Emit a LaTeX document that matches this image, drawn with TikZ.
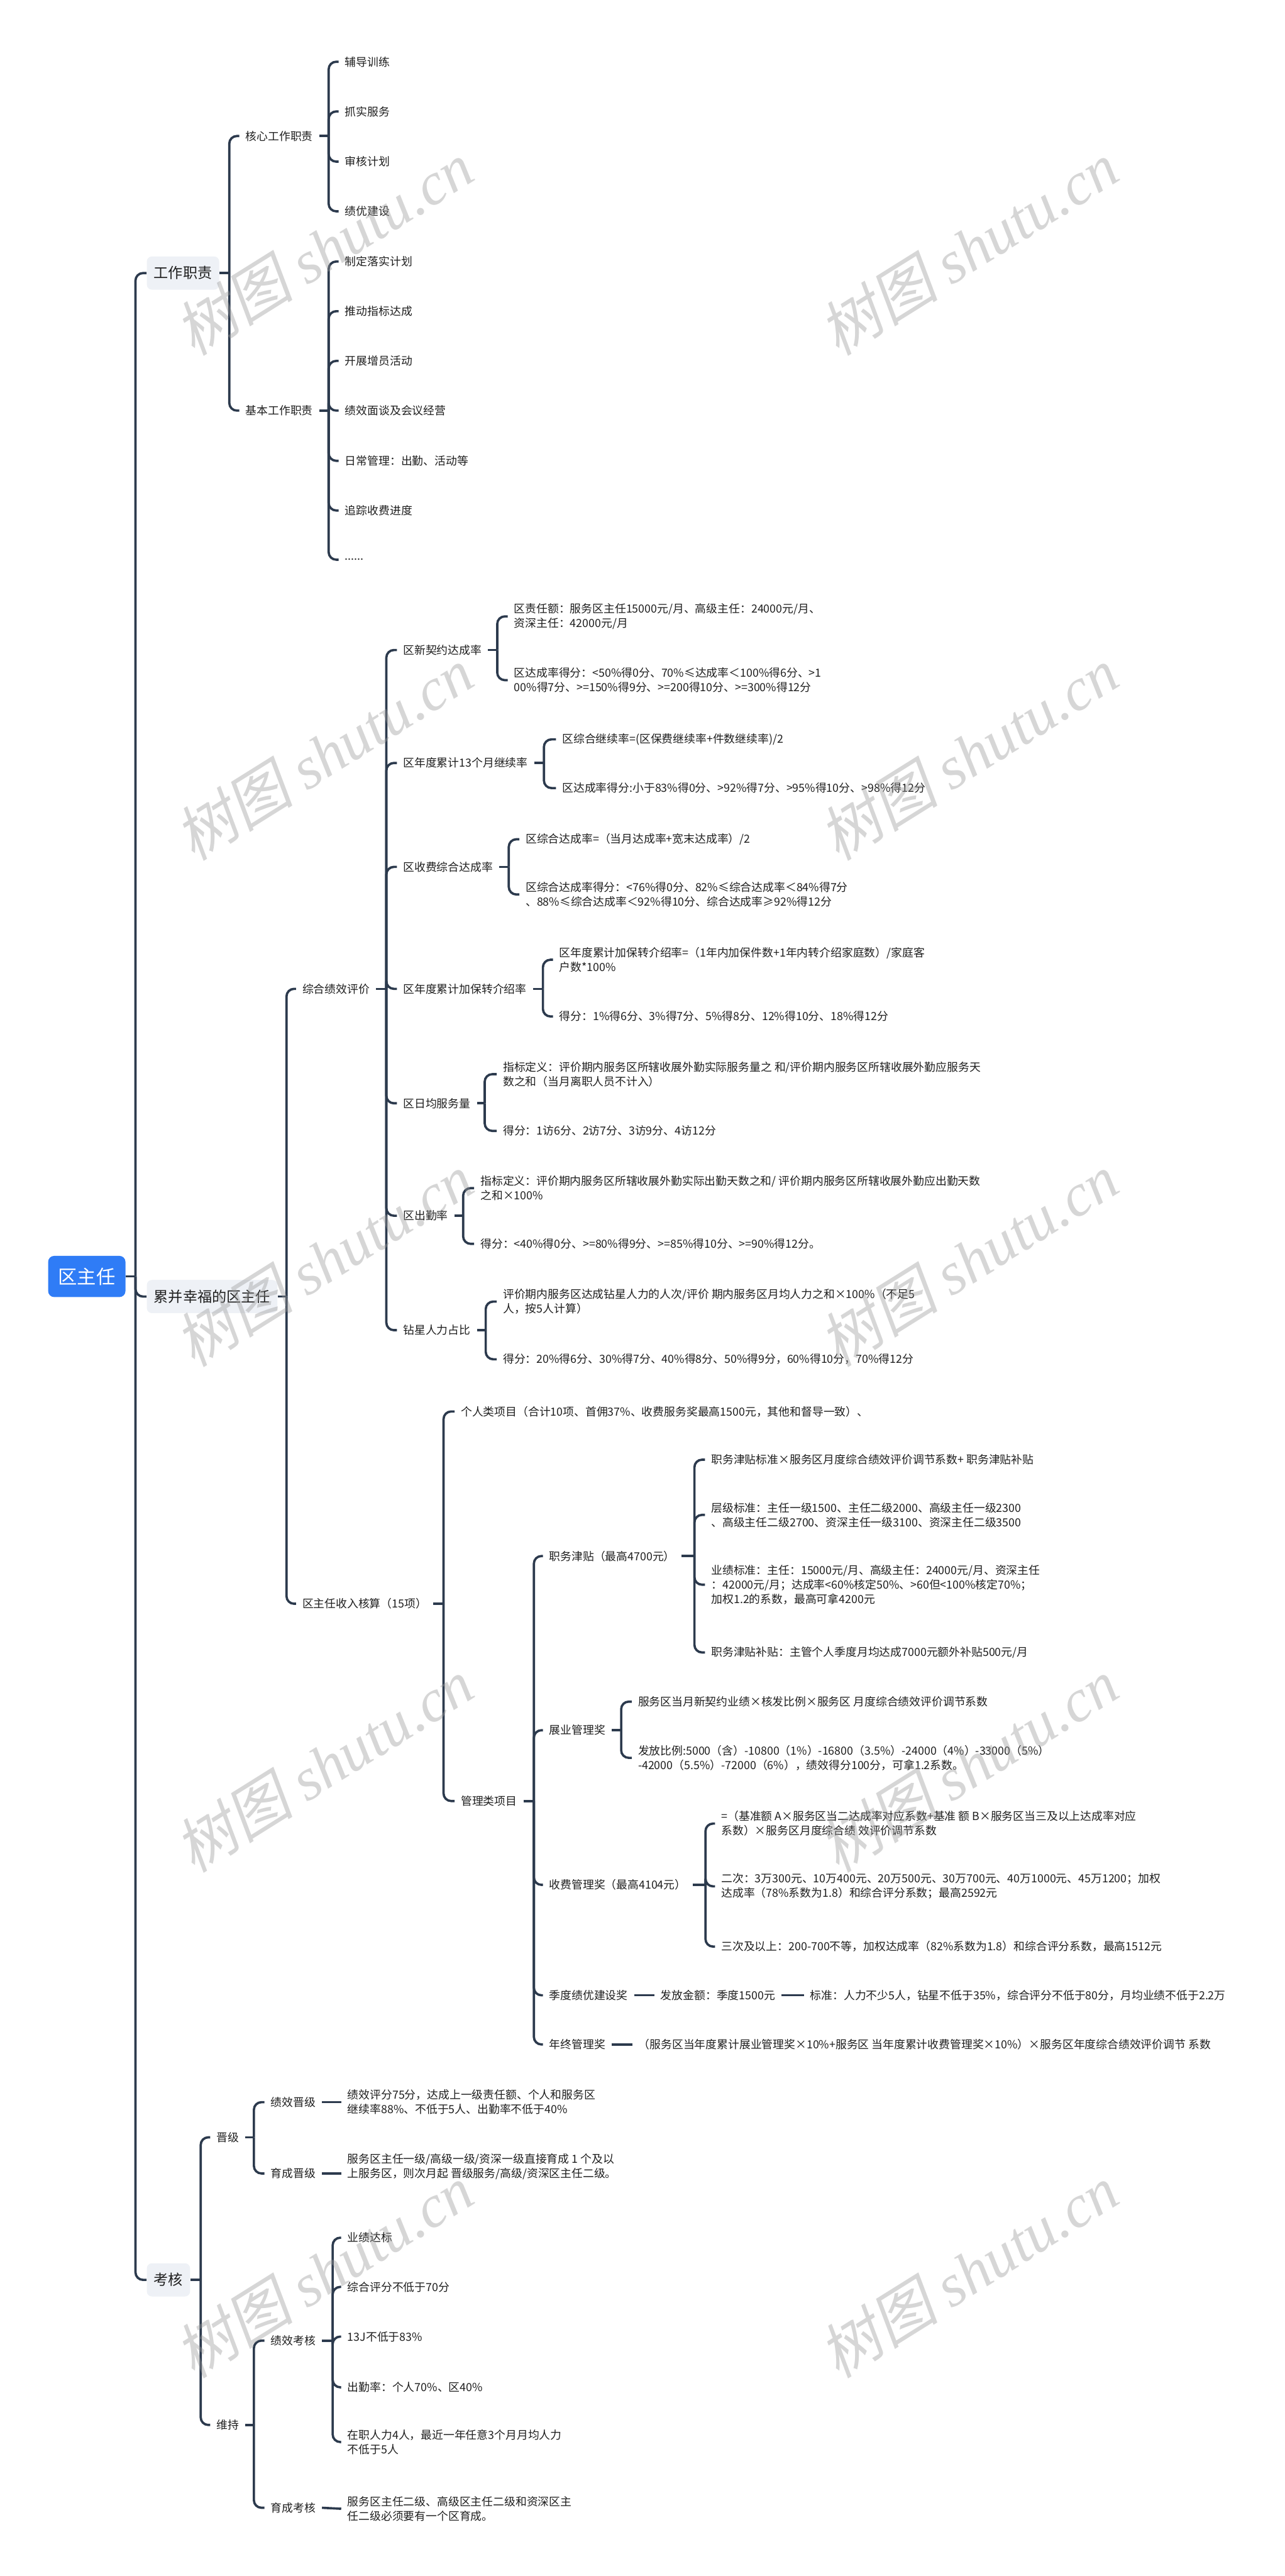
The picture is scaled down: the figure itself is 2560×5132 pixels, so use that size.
\documentclass[tikz,border=0pt]{standalone}
\usepackage{fontspec}
\setmainfont{Noto Sans CJK SC}
\newfontfamily\wmlatin{Liberation Serif}
\newfontfamily\wmcjk{Noto Sans CJK SC}[FakeSlant=0.2]
\usepackage{xcolor}
\definecolor{linecol}{HTML}{2C3A4D}
\definecolor{txtcol}{HTML}{1F1F1F}
\definecolor{boxcol}{HTML}{EEF1F6}
\definecolor{rootblue}{HTML}{2F7CF6}
\definecolor{wmcol}{HTML}{9A9A9A}
\newcommand\leaffont{\fontsize{6.35}{8.2}\selectfont}
\newcommand\topfont{\fontsize{8.25}{10}\selectfont}
\newcommand\rootfont{\fontsize{10.8}{13}\selectfont}

\begin{document}
\begin{tikzpicture}[x=0.01cm,y=-0.01cm,
  link/.style={draw=linecol,line width=1.3pt,rounded corners=0.15cm},
  leaf/.style={anchor=west,inner xsep=0.12cm,inner ysep=0.04cm,align=left,text=txtcol,font=\leaffont},
  topic/.style={anchor=west,fill=boxcol,rounded corners=0.1cm,inner xsep=0.14cm,minimum height=0.66cm,text=txtcol,font=\topfont},
  rootbox/.style={fill=rootblue,rounded corners=0.12cm,text=white,minimum width=1.54cm,minimum height=0.82cm,font=\rootfont},
  wmark/.style={text=wmcol,text opacity=0.4,rotate=32,font=\fontsize{34}{40}\selectfont}]
  \fill[white] (0,0) rectangle (2560,5132);
  \useasboundingbox (0,0) rectangle (2560,5132);

  % root and main topics
  \node[rootbox] (root) at (173,2543) {区主任};
  \node[topic] (duty) at (292,544) {工作职责};
  \node[topic] (happy) at (292,2583) {累并幸福的区主任};
  \node[topic] (exam) at (292,4542) {考核};

  % work duties
  \node[leaf] (core) at (477,271) {核心工作职责};
  \node[leaf] (basic) at (477,818) {基本工作职责};
  \foreach \n/\y/\t in {k1/123/辅导训练,k2/222/抓实服务,k3/322/审核计划,k4/421/绩优建设}
    \node[leaf] (\n) at (675,\y) {\t};
  \foreach \n/\y/\t in {j1/521/制定落实计划,j2/620/推动指标达成,j3/719/开展增员活动,
                        j4/818/绩效面谈及会议经营,j5/918/日常管理：出勤、活动等,
                        j6/1017/追踪收费进度}
    \node[leaf] (\n) at (675,\y) {\t};
  \node[leaf] (j7) at (675,1115) {......};

  % evaluation
  \node[leaf] (eval) at (590,1970) {综合绩效评价};
  \node[leaf] (income) at (590,3195) {区主任收入核算（15项）};
  \foreach \n/\y/\t in {e1/1295/区新契约达成率,e2/1520/区年度累计13个月继续率,
                        e3/1727/区收费综合达成率,e4/1970/区年度累计加保转介绍率,
                        e5/2198/区日均服务量,e6/2422/区出勤率,e7/2650/钻星人力占比}
    \node[leaf] (\n) at (791,\y) {\t};
  \node[leaf] (e1a) at (1012,1228) {区责任额：服务区主任15000元/月、高级主任：24000元/月、\\资深主任：42000元/月};
  \node[leaf] (e1b) at (1012,1355) {区达成率得分：<50\%得0分、70\%≤达成率＜100\%得6分、>1\\00\%得7分、>=150\%得9分、>=200得10分、>=300\%得12分};
  \node[leaf] (e2a) at (1108,1473) {区综合继续率=(区保费继续率+件数继续率)/2};
  \node[leaf] (e2b) at (1108,1570) {区达成率得分:小于83\%得0分、>92\%得7分、>95\%得10分、>98\%得12分};
  \node[leaf] (e3a) at (1035,1672) {区综合达成率=（当月达成率+宽末达成率）/2};
  \node[leaf] (e3b) at (1035,1782) {区综合达成率得分：<76\%得0分、82\%≤综合达成率＜84\%得7分\\、88\%≤综合达成率＜92\%得10分、综合达成率≥92\%得12分};
  \node[leaf] (e4a) at (1102,1912) {区年度累计加保转介绍率=（1年内加保件数+1年内转介绍家庭数）/家庭客\\户数*100\%};
  \node[leaf] (e4b) at (1102,2025) {得分：1\%得6分、3\%得7分、5\%得8分、12\%得10分、18\%得12分};
  \node[leaf] (e5a) at (990,2140) {指标定义：评价期内服务区所辖收展外勤实际服务量之 和/评价期内服务区所辖收展外勤应服务天\\数之和（当月离职人员不计入）};
  \node[leaf] (e5b) at (990,2253) {得分：1访6分、2访7分、3访9分、4访12分};
  \node[leaf] (e6a) at (945,2367) {指标定义：评价期内服务区所辖收展外勤实际出勤天数之和/ 评价期内服务区所辖收展外勤应出勤天数\\之和×100\%};
  \node[leaf] (e6b) at (945,2478) {得分：<40\%得0分、>=80\%得9分、>=85\%得10分、>=90\%得12分。};
  \node[leaf] (e7a) at (990,2593) {评价期内服务区达成钻星人力的人次/评价 期内服务区月均人力之和×100\%（不足5\\人，按5人计算）};
  \node[leaf] (e7b) at (990,2708) {得分：20\%得6分、30\%得7分、40\%得8分、50\%得9分，60\%得10分，70\%得12分};

  % income
  \node[leaf] (personal) at (906,2812) {个人类项目（合计10项、首佣37\%、收费服务奖最高1500元，其他和督导一致）、};
  \node[leaf] (mgmt) at (906,3588) {管理类项目};
  \foreach \n/\y/\t in {post/3100/职务津贴（最高4700元）,expand/3447/展业管理奖,
                        fee/3755/收费管理奖（最高4104元）,quarter/3975/季度绩优建设奖,
                        yearend/4073/年终管理奖}
    \node[leaf] (\n) at (1082,\y) {\t};
  \node[leaf] (p1) at (1405,2908) {职务津贴标准×服务区月度综合绩效评价调节系数+ 职务津贴补贴};
  \node[leaf] (p2) at (1405,3018) {层级标准：主任一级1500、主任二级2000、高级主任一级2300\\、高级主任二级2700、资深主任一级3100、资深主任二级3500};
  \node[leaf] (p3) at (1405,3157) {业绩标准：主任：15000元/月、高级主任：24000元/月、资深主任\\：42000元/月；达成率<60\%核定50\%、>60但<100\%核定70\%；\\加权1.2的系数，最高可拿4200元};
  \node[leaf] (p4) at (1405,3292) {职务津贴补贴：主管个人季度月均达成7000元额外补贴500元/月};
  \node[leaf] (x1) at (1259,3390) {服务区当月新契约业绩×核发比例×服务区 月度综合绩效评价调节系数};
  \node[leaf] (x2) at (1259,3502) {发放比例:5000（含）-10800（1\%）-16800（3.5\%）-24000（4\%）-33000（5\%）\\-42000（5.5\%）-72000（6\%），绩效得分100分，可拿1.2系数。};
  \node[leaf] (f1) at (1425,3633) {=（基准额 A×服务区当二达成率对应系数+基准 额 B×服务区当三及以上达成率对应\\系数）×服务区月度综合绩 效评价调节系数};
  \node[leaf] (f2) at (1425,3758) {二次：3万300元、10万400元、20万500元、30万700元、40万1000元、45万1200；加权\\达成率（78\%系数为1.8）和综合评分系数；最高2592元};
  \node[leaf] (f3) at (1425,3878) {三次及以上：200-700不等，加权达成率（82\%系数为1.8）和综合评分系数，最高1512元};
  \node[leaf] (q1) at (1304,3975) {发放金额：季度1500元};
  \node[leaf] (q2) at (1602,3975) {标准：人力不少5人，钻星不低于35\%，综合评分不低于80分，月均业绩不低于2.2万};
  \node[leaf] (y1) at (1260,4073) {（服务区当年度累计展业管理奖×10\%+服务区 当年度累计收费管理奖×10\%）×服务区年度综合绩效评价调节 系数};

  % assessment
  \node[leaf] (promo) at (419,4258) {晋级};
  \node[leaf] (keep) at (419,4831) {维持};
  \node[leaf] (pm1) at (527,4188) {绩效晋级};
  \node[leaf] (pm2) at (527,4330) {育成晋级};
  \node[leaf] (pm1t) at (680,4188) {绩效评分75分，达成上一级责任额、个人和服务区\\继续率88\%、不低于5人、出勤率不低于40\%};
  \node[leaf] (pm2t) at (680,4316) {服务区主任一级/高级一级/资深一级直接育成 1 个及以\\上服务区，则次月起 晋级服务/高级/资深区主任二级。};
  \node[leaf] (kp1) at (527,4663) {绩效考核};
  \node[leaf] (kp2) at (527,4996) {育成考核};
  \foreach \n/\y/\t in {c1/4458/业绩达标,c2/4556/综合评分不低于70分,c3/4655/13J不低于83\%,
                        c4/4756/出勤率：个人70\%、区40\%}
    \node[leaf] (\n) at (680,\y) {\t};
  \node[leaf] (c5) at (680,4865) {在职人力4人，最近一年任意3个月月均人力\\不低于5人};
  \node[leaf] (kp2t) at (680,4998) {服务区主任二级、高级区主任二级和资深区主\\任二级必须要有一个区育成。};

  % branches
  \foreach \p/\bx/\cs in {root/270/{duty,happy,exam},
      duty/457/{core,basic}, core/655/{k1,k2,k3,k4}, basic/655/{j1,j2,j3,j4,j5,j6,j7},
      happy/571/{eval,income}, eval/770/{e1,e2,e3,e4,e5,e6,e7},
      e1/991/{e1a,e1b}, e2/1084/{e2a,e2b}, e3/1014/{e3a,e3b}, e4/1082/{e4a,e4b},
      e5/966/{e5a,e5b}, e6/923/{e6a,e6b}, e7/968/{e7a,e7b},
      income/884/{personal,mgmt}, mgmt/1064/{post,expand,fee,quarter,yearend},
      post/1384/{p1,p2,p3,p4}, expand/1238/{x1,x2}, fee/1406/{f1,f2,f3},
      exam/400/{promo,keep}, promo/506/{pm1,pm2}, keep/506/{kp1,kp2},
      kp1/663/{c1,c2,c3,c4,c5}}{
    \coordinate (bar) at (\p.east -| \bx,0);
    \draw[link] (\p.east) -- (bar);
    \foreach \c in \cs \draw[link] (bar) |- (\c.west);
  }
  \foreach \a/\b in {quarter/q1,q1/q2,yearend/y1,pm1/pm1t,kp2/kp2t}
    \draw[link] (\a.east) -- (\b.west);
  \draw[link] (pm2.east) -- (pm2.east -| pm2t.west);

  % watermarks
  \foreach \i/\x/\y in {1/645/495,2/1930/495,3/645/1502,4/1930/1502,5/645/2510,
                        6/1930/2510,7/645/3517,8/1930/3517,9/645/4525,10/1930/4525}
    \node[wmark] (wm\i) at (\x,\y) {{\wmcjk 树图} {\wmlatin\itshape shutu.cn}};
\end{tikzpicture}
\end{document}
